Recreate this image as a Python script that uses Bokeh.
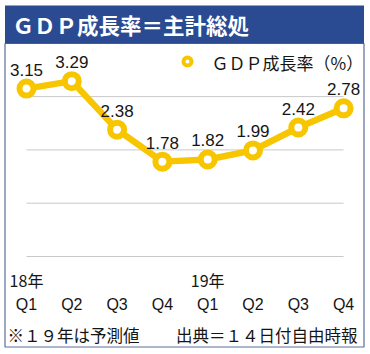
from bokeh.plotting import figure
from bokeh.models import Range1d, ColumnDataSource
from bokeh.core.properties import value
from bokeh.embed import file_html
from bokeh.resources import INLINE

# ---- data ----
quarters = ["Q1", "Q2", "Q3", "Q4", "Q1", "Q2", "Q3", "Q4"]
year_labels = ["18年", "", "", "", "19年", "", "", ""]
gdp_growth = [3.15, 3.29, 2.38, 1.78, 1.82, 1.99, 2.42, 2.78]
grid_values = [0, 1, 2, 3]
title_text = "ＧＤＰ成長率＝主計総処"
legend_text = "ＧＤＰ成長率（%）"
note_left = "※１９年は予測値"
note_right = "出典＝１４日付自由時報"

W, H = 370, 354
X0, DX = 26.0, 45.3     # pixel x of first category, pixel step
Y0, DY = 256.0, 53.3    # pixel y of value 0, pixels per unit

def fx(px):
    return (px - X0) / DX

def fy(py):
    return (Y0 - py) / DY

idx = list(range(len(gdp_growth)))

p = figure(width=W, height=H, output_backend="svg", toolbar_location=None,
           x_range=Range1d(fx(0), fx(W)), y_range=Range1d(fy(H), fy(0)),
           min_border=0, min_border_left=0, min_border_right=0,
           min_border_top=0, min_border_bottom=0)
p.axis.visible = False
p.grid.visible = False
p.outline_line_color = None
p.background_fill_color = "white"
p.border_fill_color = "white"

BLUE = "#2A4A91"
YELLOW = "#F7C600"
JP = value("Noto Sans CJK JP")
LAT = value("Liberation Sans")
TXT = "#151515"

# panel border and header
p.quad(left=[fx(4.5)], right=[fx(363.5)], top=[fy(43)], bottom=[fy(346.5)],
       fill_color=None, line_color="#5A6E9A", line_width=1.2)
p.quad(left=[fx(4.5)], right=[fx(363.5)], top=[fy(5)], bottom=[fy(43)],
       fill_color=BLUE, line_color=None)
p.text(x=[fx(12)], y=[fy(24)], text=[title_text], text_color="white",
       text_font=JP, text_font_size="21.5px", text_font_style="bold",
       text_align="left", text_baseline="middle")

# grid lines
p.segment(x0=[idx[0]] * len(grid_values), x1=[idx[-1]] * len(grid_values),
          y0=grid_values, y1=grid_values, line_color="#C9C9C9", line_width=1)

# series
src = ColumnDataSource(dict(x=idx, y=gdp_growth,
                            lab=["%.2f" % v for v in gdp_growth]))
p.line("x", "y", source=src, line_color=YELLOW, line_width=6.5)
p.scatter("x", "y", source=src, size=14, fill_color="white",
          line_color=YELLOW, line_width=6)
p.text("x", "y", text="lab", source=src, y_offset=-19, text_font=LAT,
       text_font_size="17px", text_color=TXT, text_align="center",
       text_baseline="middle")

# legend
p.scatter([fx(187)], [fy(61)], size=8, fill_color="white",
          line_color=YELLOW, line_width=4)
p.text(x=[fx(211)], y=[fy(62)], text=[legend_text], text_font=JP,
       text_font_size="17px", text_color=TXT, text_align="left",
       text_baseline="middle")

# category axis labels
p.text(x=idx, y=[fy(304)] * len(idx), text=quarters, text_font=LAT,
       text_font_size="16px", text_color=TXT, text_align="center",
       text_baseline="middle")
p.text(x=idx, y=[fy(279)] * len(idx), text=year_labels, text_font=JP,
       text_font_size="16px", text_color=TXT, text_align="center",
       text_baseline="middle")

# footnotes
p.text(x=[fx(7)], y=[fy(334)], text=[note_left], text_font=JP,
       text_font_size="16.5px", text_color=TXT, text_align="left",
       text_baseline="middle")
p.text(x=[fx(357)], y=[fy(334)], text=[note_right], text_font=JP,
       text_font_size="16.5px", text_color=TXT, text_align="right",
       text_baseline="middle")

open("out.html", "w").write(file_html(p, INLINE))
